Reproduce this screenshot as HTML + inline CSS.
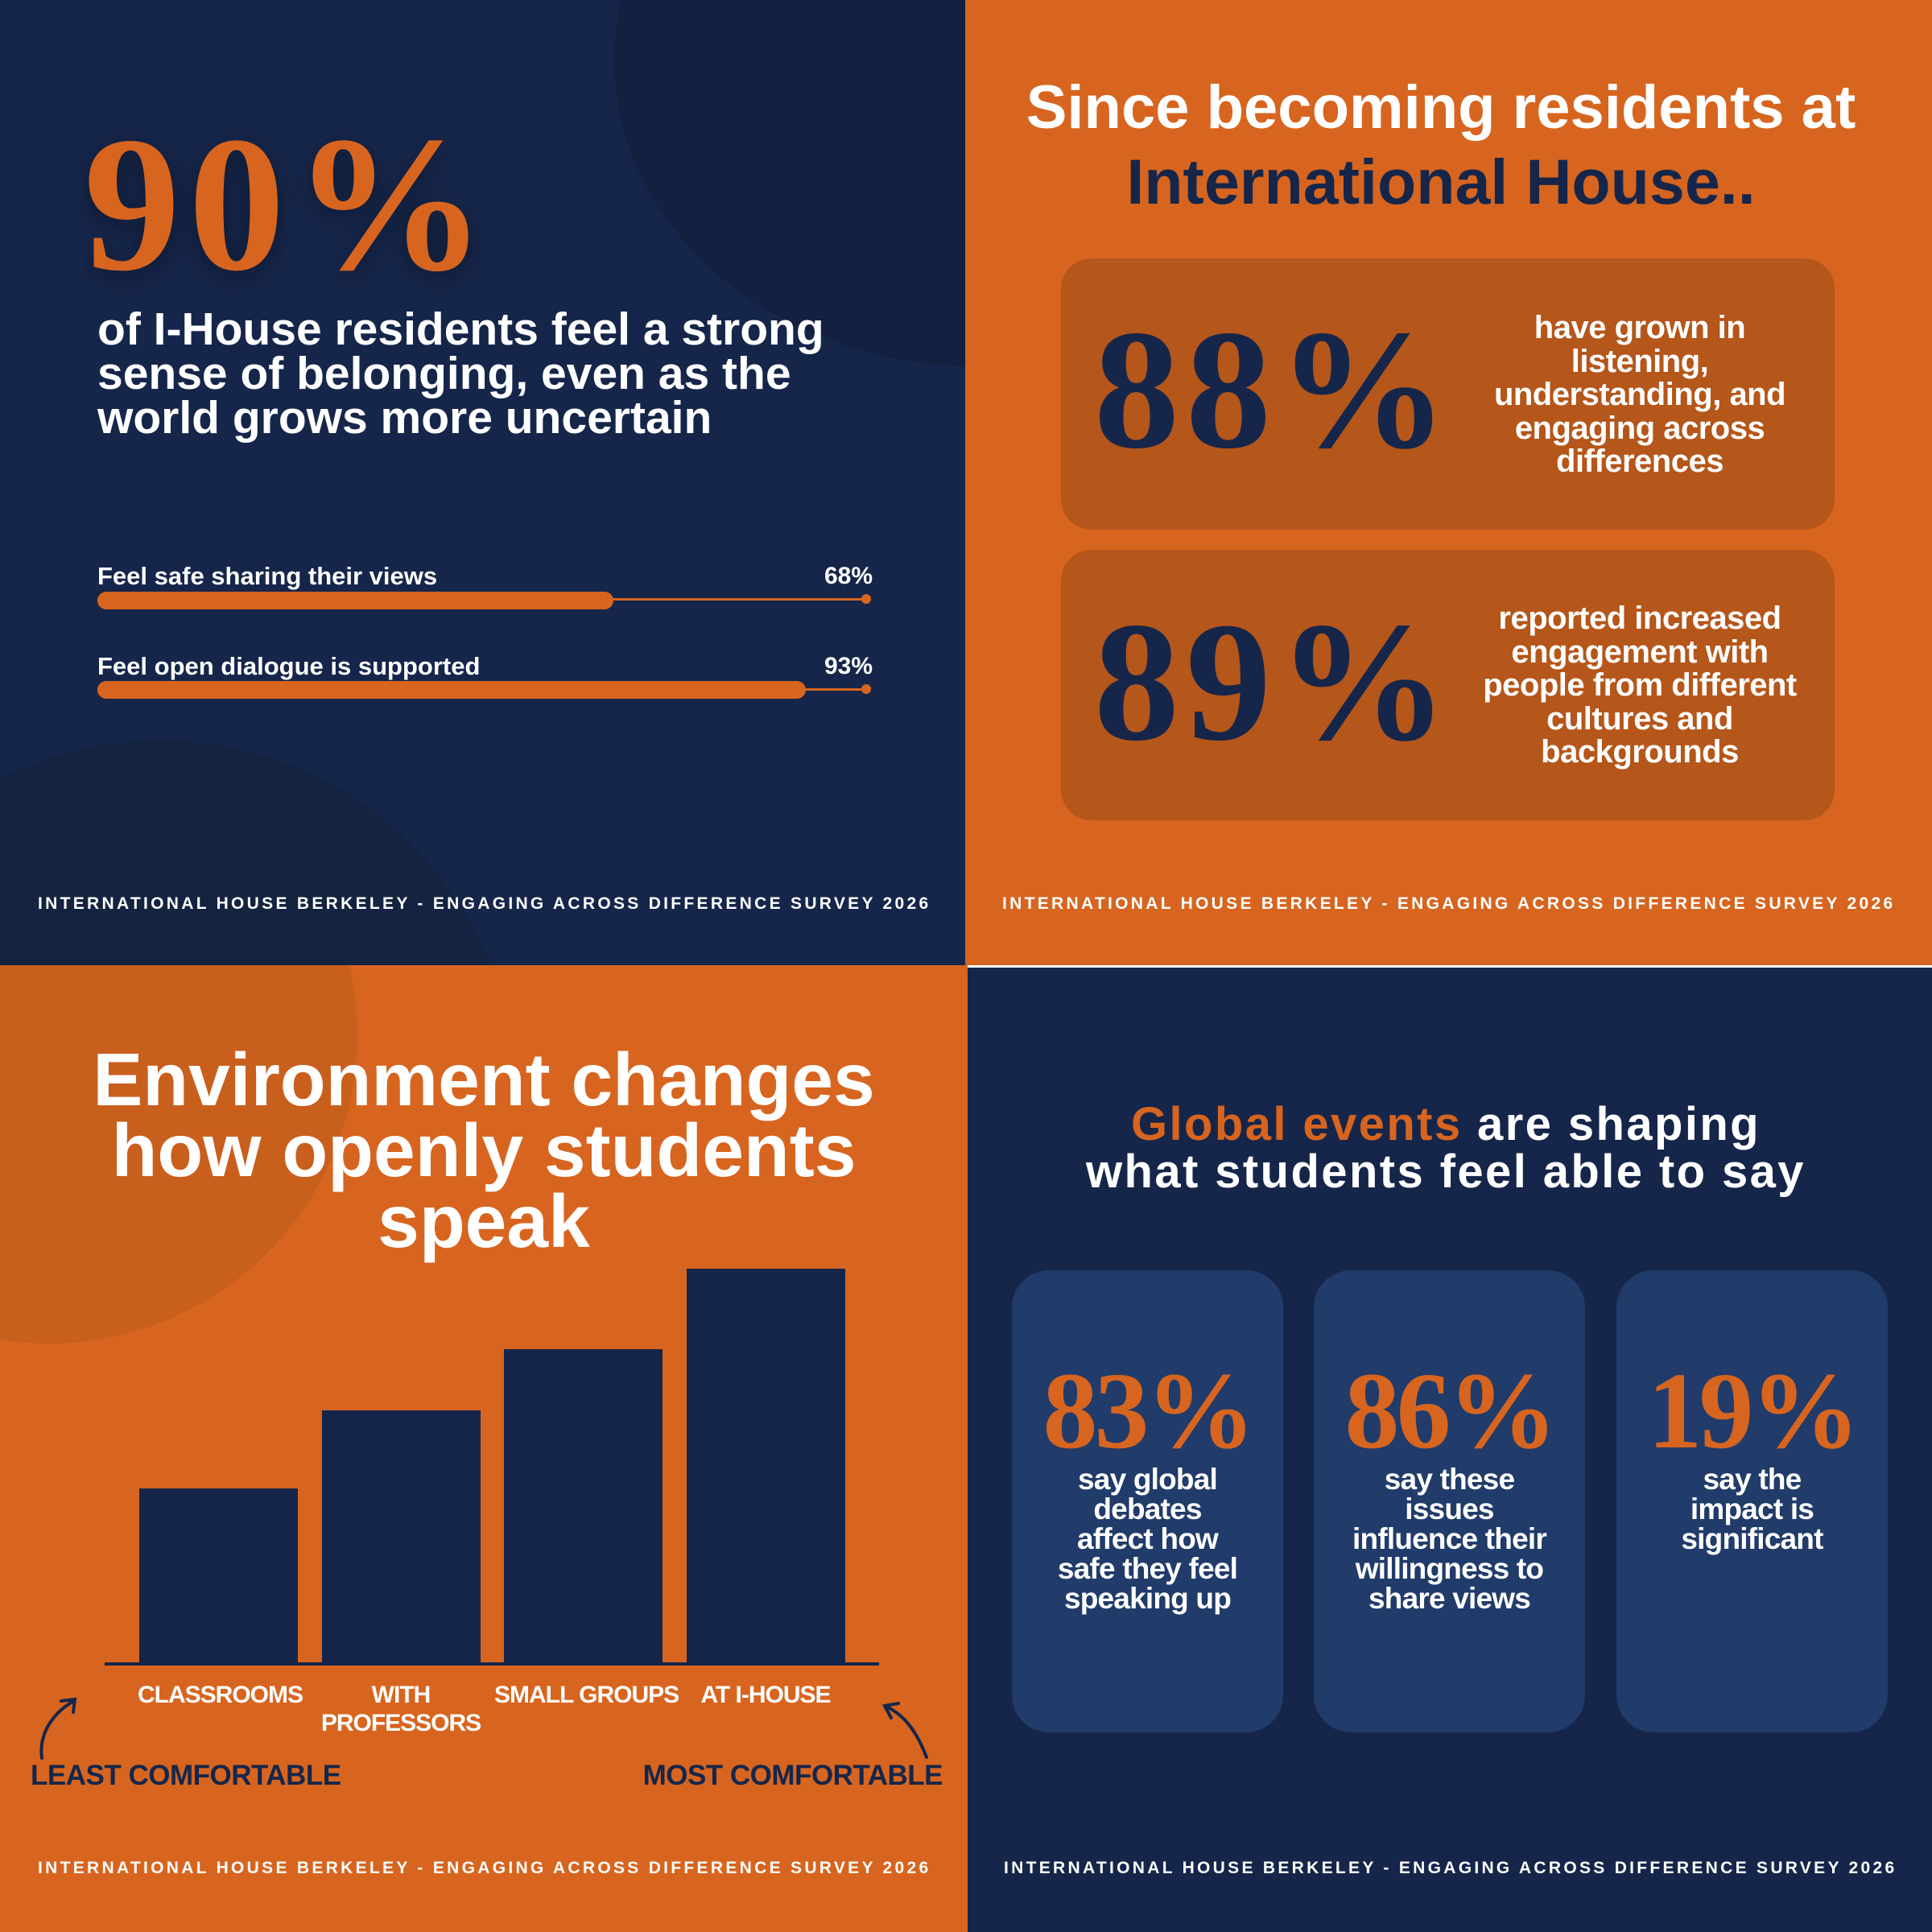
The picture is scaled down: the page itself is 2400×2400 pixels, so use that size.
<!DOCTYPE html>
<html><head><meta charset="utf-8"><style>
*{margin:0;padding:0;box-sizing:border-box}
body{width:2400px;height:2400px;position:relative;overflow:hidden;font-family:"Liberation Sans",sans-serif;font-weight:bold;color:#fff}
.q{position:absolute;overflow:hidden}
.a{position:absolute;white-space:nowrap}
.serif{font-family:"Liberation Serif",serif;font-weight:bold}
.foot{position:absolute;font-size:21px;letter-spacing:3.3px;line-height:30px;white-space:nowrap}
.c{text-align:center}
</style></head><body>
<!-- TL -->
<div class="q" style="left:0;top:0;width:1199px;height:1199px;background:#16264a">
 <div style="position:absolute;left:763px;top:-305px;width:900px;height:760px;border-radius:50%;background:#13203f"></div>
 <div style="position:absolute;left:-240px;top:920px;width:880px;height:880px;border-radius:50%;background:#14233f"></div>
 <div class="a serif" style="left:104px;top:133px;font-size:240px;line-height:240px;color:#d7651f;letter-spacing:10px;text-shadow:0 8px 30px rgba(0,0,0,.35)">90%</div>
 <div class="a" style="left:121px;top:382px;font-size:57px;line-height:55px">of I-House residents feel a strong<br>sense of belonging, even as the<br>world grows more uncertain</div>
 <div class="a" style="left:121px;top:698px;font-size:31px;line-height:36px">Feel safe sharing their views</div>
 <div class="a" style="left:1000px;top:698px;width:84px;text-align:right;font-size:30px;line-height:36px">68%</div>
 <div style="position:absolute;left:121px;top:743px;width:955px;height:3px;background:#d7651f"></div>
 <div style="position:absolute;left:1070px;top:738px;width:12px;height:12px;border-radius:50%;background:#d7651f"></div>
 <div style="position:absolute;left:121px;top:735px;width:641px;height:22px;border-radius:11px;background:#d7651f"></div>
 <div class="a" style="left:121px;top:810px;font-size:31px;line-height:36px">Feel open dialogue is supported</div>
 <div class="a" style="left:1000px;top:810px;width:84px;text-align:right;font-size:30px;line-height:36px">93%</div>
 <div style="position:absolute;left:121px;top:855px;width:955px;height:3px;background:#d7651f"></div>
 <div style="position:absolute;left:1070px;top:850px;width:12px;height:12px;border-radius:50%;background:#d7651f"></div>
 <div style="position:absolute;left:121px;top:846px;width:880px;height:22px;border-radius:11px;background:#d7651f"></div>
 <div class="foot" style="left:47px;top:1108px">INTERNATIONAL HOUSE BERKELEY - ENGAGING ACROSS DIFFERENCE SURVEY 2026</div>
</div>
<!-- TR -->
<div class="q" style="left:1199px;top:0;width:1201px;height:1199px;background:#d7651f">
 <div class="a c" style="left:0;width:1182px;top:88px;font-size:76px;line-height:92px">Since becoming residents at</div>
 <div class="a c" style="left:0;width:1182px;top:180px;font-size:79px;line-height:92px;color:#16264a;letter-spacing:0px">International House..</div>
 <div style="position:absolute;left:119px;top:321px;width:961px;height:337px;border-radius:38px;background:#b5561a"></div>
 <div style="position:absolute;left:119px;top:683px;width:961px;height:336px;border-radius:38px;background:#b5561a"></div>
 <div class="a serif" style="left:160px;top:374px;font-size:212px;line-height:220px;color:#16264a;letter-spacing:8px">88%</div>
 <div class="a serif" style="left:160px;top:737px;font-size:212px;line-height:220px;color:#16264a;letter-spacing:8px">89%</div>
 <div class="a c" style="left:618px;width:440px;top:387px;font-size:40px;line-height:41.5px;letter-spacing:-.5px">have grown in<br>listening,<br>understanding, and<br>engaging across<br>differences</div>
 <div class="a c" style="left:598px;width:480px;top:748px;font-size:40px;line-height:41.5px;letter-spacing:-.5px">reported increased<br>engagement with<br>people from different<br>cultures and<br>backgrounds</div>
 <div class="foot" style="left:46px;top:1108px">INTERNATIONAL HOUSE BERKELEY - ENGAGING ACROSS DIFFERENCE SURVEY 2026</div>
</div>
<!-- BL -->
<div class="q" style="left:0;top:1199px;width:1202px;height:1201px;background:#d7651f">
 <div style="position:absolute;left:-322px;top:-296px;width:766px;height:766px;border-radius:50%;background:#c95f1d"></div>
 <div class="a c" style="left:0;width:1202px;top:98px;font-size:93px;line-height:88px">Environment changes<br>how openly students<br>speak</div>
 <div style="position:absolute;left:173px;top:650px;width:197px;height:220px;background:#16264a"></div>
 <div style="position:absolute;left:400px;top:553px;width:197px;height:317px;background:#16264a"></div>
 <div style="position:absolute;left:626px;top:477px;width:197px;height:393px;background:#16264a"></div>
 <div style="position:absolute;left:853px;top:377px;width:197px;height:493px;background:#16264a"></div>
 <div style="position:absolute;left:130px;top:866px;width:962px;height:4px;background:#16264a"></div>
 <div class="a c" style="left:171px;width:200px;top:889px;font-size:30px;line-height:35px;letter-spacing:-1px">CLASSROOMS</div>
 <div class="a c" style="left:398px;width:200px;top:889px;font-size:30px;line-height:35px;letter-spacing:-1px">WITH<br>PROFESSORS</div>
 <div class="a c" style="left:614px;width:220px;top:889px;font-size:30px;line-height:35px;letter-spacing:-1px">SMALL GROUPS</div>
 <div class="a c" style="left:851px;width:200px;top:889px;font-size:30px;line-height:35px;letter-spacing:-1px">AT I-HOUSE</div>
 <div class="a" style="left:38px;top:987px;font-size:35px;line-height:40px;color:#16264a;letter-spacing:-.5px">LEAST COMFORTABLE</div>
 <div class="a" style="left:700px;width:471px;text-align:right;top:987px;font-size:35px;line-height:40px;color:#16264a;letter-spacing:-.5px">MOST COMFORTABLE</div>
 <svg style="position:absolute;left:0;top:0" width="1202" height="1201">
  <path d="M52 985 C48 955 65 930 90 915" stroke="#16264a" stroke-width="4" fill="none" stroke-linecap="round"/>
  <path d="M76 914 L93 912 L91 928" stroke="#16264a" stroke-width="4" fill="none" stroke-linecap="round"/>
  <path d="M1151 984 C1140 955 1125 932 1101 921" stroke="#16264a" stroke-width="4" fill="none" stroke-linecap="round"/>
  <path d="M1116 917 L1099 920 L1107 935" stroke="#16264a" stroke-width="4" fill="none" stroke-linecap="round"/>
 </svg>
 <div class="foot" style="left:47px;top:1107px">INTERNATIONAL HOUSE BERKELEY - ENGAGING ACROSS DIFFERENCE SURVEY 2026</div>
</div>
<!-- BR -->
<div class="q" style="left:1202px;top:1202px;width:1198px;height:1198px;background:#16264a">
 <div class="a c" style="left:0;width:1188px;top:165px;font-size:58px;line-height:59px;letter-spacing:2.4px"><span style="color:#d7651f">Global events</span> are shaping<br>what students feel able to say</div>
 <div style="position:absolute;left:55px;top:376px;width:337px;height:574px;border-radius:46px;background:#213b6a"></div>
 <div style="position:absolute;left:430px;top:376px;width:337px;height:574px;border-radius:46px;background:#213b6a"></div>
 <div style="position:absolute;left:806px;top:376px;width:337px;height:574px;border-radius:46px;background:#213b6a"></div>
 <div class="a serif c" style="left:55px;width:337px;top:483px;font-size:136px;line-height:136px;color:#d7651f;letter-spacing:-4px">83%</div>
 <div class="a serif c" style="left:430px;width:337px;top:483px;font-size:136px;line-height:136px;color:#d7651f;letter-spacing:-4px">86%</div>
 <div class="a serif c" style="left:806px;width:337px;top:483px;font-size:136px;line-height:136px;color:#d7651f;letter-spacing:-4px">19%</div>
 <div class="a c" style="left:55px;width:337px;top:617px;font-size:37px;line-height:37px;letter-spacing:-.8px">say global<br>debates<br>affect how<br>safe they feel<br>speaking up</div>
 <div class="a c" style="left:430px;width:337px;top:617px;font-size:37px;line-height:37px;letter-spacing:-.8px">say these<br>issues<br>influence their<br>willingness to<br>share views</div>
 <div class="a c" style="left:806px;width:337px;top:617px;font-size:37px;line-height:37px;letter-spacing:-.8px">say the<br>impact is<br>significant</div>
 <div class="foot" style="left:45px;top:1104px">INTERNATIONAL HOUSE BERKELEY - ENGAGING ACROSS DIFFERENCE SURVEY 2026</div>
</div>
</body></html>
